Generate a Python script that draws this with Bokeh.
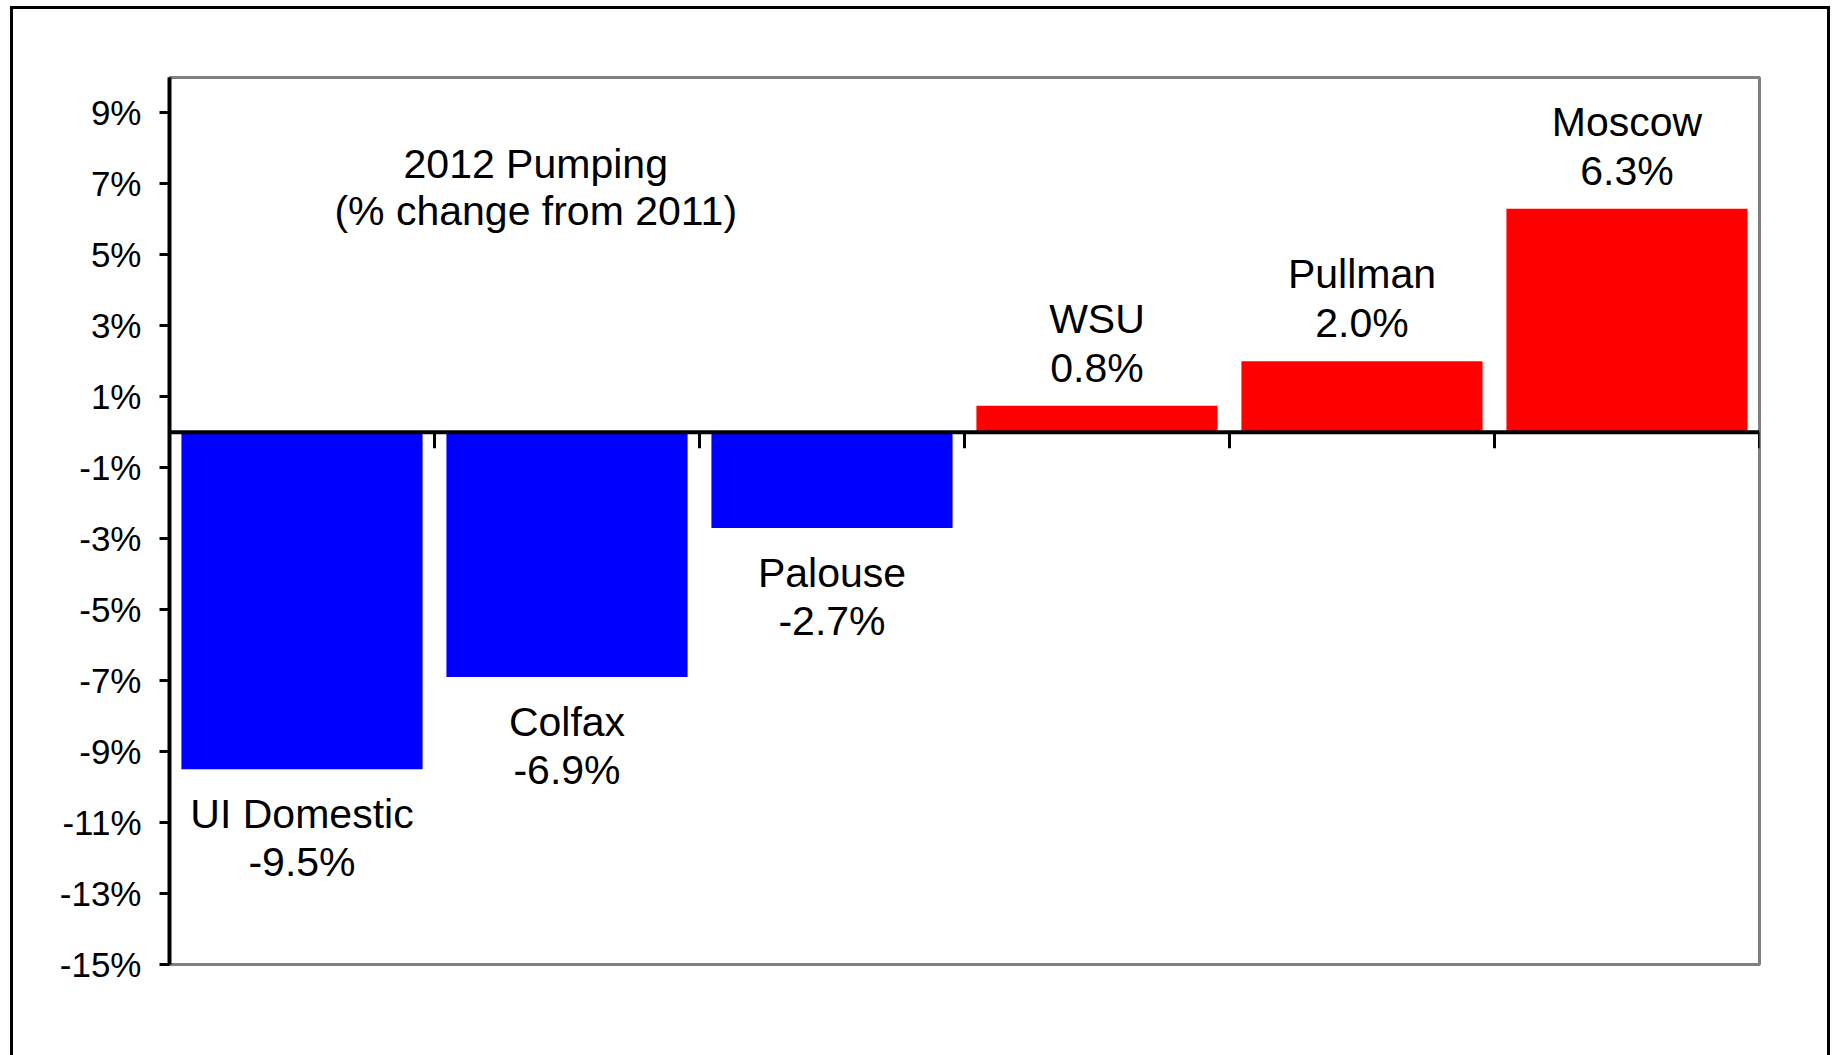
from bokeh.plotting import figure
from bokeh.models import Range1d, FixedTicker, PrintfTickFormatter, Span, ColumnDataSource, Label, InlineStyleSheet
from bokeh.core.properties import value
from bokeh.embed import file_html
from bokeh.resources import INLINE

# ---- data ----
sites = ["UI Domestic", "Colfax", "Palouse", "WSU", "Pullman", "Moscow"]
changes = [-9.5, -6.9, -2.7, 0.75, 2.0, 6.3]
value_labels = ["-9.5%", "-6.9%", "-2.7%", "0.8%", "2.0%", "6.3%"]
y_ticks = [9, 7, 5, 3, 1, -1, -3, -5, -7, -9, -11, -13, -15]
title_lines = ["2012 Pumping", "(% change from 2011)"]

FONT = "Liberation Sans"
W, H = 1833, 1055

p = figure(width=W, height=H, output_backend="svg", toolbar_location=None,
           x_range=Range1d(0, len(sites)), y_range=Range1d(-15, 10),
           min_border_left=169, min_border_right=74, min_border_top=77, min_border_bottom=91)
p.xaxis.visible = False
p.xgrid.visible = False
p.ygrid.visible = False
p.background_fill_color = "white"
p.border_fill_color = "white"
p.outline_line_color = "#808080"
p.outline_line_width = 3

ya = p.yaxis[0]
ya.ticker = FixedTicker(ticks=y_ticks)
ya.formatter = PrintfTickFormatter(format="%d%%")
ya.axis_line_color = "black"
ya.axis_line_width = 4
ya.major_tick_line_color = "black"
ya.major_tick_line_width = 3
ya.major_tick_out = 10
ya.major_tick_in = 0
ya.minor_tick_line_color = None
ya.major_label_standoff = 18
ya.major_label_text_font = FONT
ya.major_label_text_font_size = "35px"
ya.major_label_text_color = "black"

xs = [i + 0.5 for i in range(len(sites))]
colors = ["#0000FF" if v < 0 else "#FF0000" for v in changes]
src = ColumnDataSource(dict(x=xs, top=changes, color=colors, name=sites, val=value_labels,
                            off1=[45 if v < 0 else -87 for v in changes],
                            off2=[93 if v < 0 else -38 for v in changes]))
p.vbar(x="x", top="top", bottom=0, width=0.91, fill_color="color", line_color=None, source=src)

# zero line and category separators
p.add_layout(Span(location=0, dimension="width", line_color="black", line_width=4))
bounds = list(range(1, len(sites) + 1))
p.segment(x0=bounds, y0=[0] * len(bounds), x1=bounds, y1=[-0.45] * len(bounds),
          line_color="black", line_width=3)

# data labels
for col, off in (("name", "off1"), ("val", "off2")):
    p.text(x="x", y="top", text=col, y_offset=off, source=src,
           text_align="center", text_baseline="alphabetic",
           text_font=value(FONT), text_font_size="41px", text_color="black")

# chart title inside plot
for line, yy in zip(title_lines, [7.56, 6.24]):
    p.add_layout(Label(x=1.382, y=yy, text=line, text_align="center", text_baseline="alphabetic",
                       text_font=FONT, text_font_size="41px", text_color="black"))

# outer chart-area frame (drawn with CSS, open at the bottom like the reference)
p.stylesheets = [InlineStyleSheet(css="""
:host::after {
  content: "";
  position: fixed;
  left: 10px; top: 6px; width: 1820px; height: 1100px;
  box-sizing: border-box;
  border: 3px solid black;
  border-bottom: none;
  pointer-events: none;
}
""")]

open("out.html", "w").write(file_html(p, INLINE))
